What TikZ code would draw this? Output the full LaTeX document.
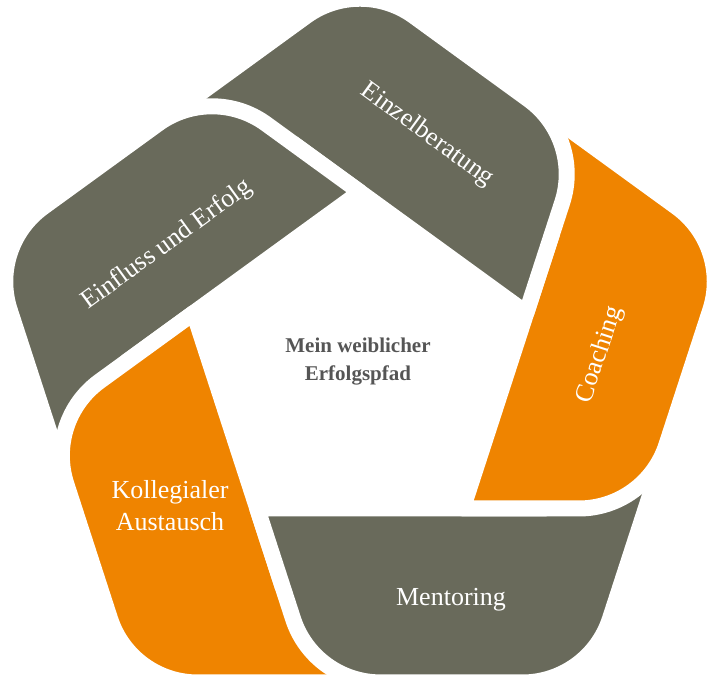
\documentclass[tikz,border=0pt]{standalone}
\usepackage{fontspec}
\setmainfont{Liberation Serif}
\definecolor{segGray}{HTML}{696A5B}
\definecolor{segOrange}{HTML}{EF8400}
\definecolor{midText}{HTML}{555555}
\tikzset{
  segfill/.style={draw=white, line width=16pt, line join=round},
  seglabel/.style={text=white, font=\fontsize{26}{32}\selectfont, align=center, inner sep=0pt},
  midlabel/.style={text=midText, font=\fontsize{21}{28}\selectfont\bfseries, align=center, inner sep=0pt}
}
\newcommand\drawseg[2]{%
  \begin{scope}[shift={(360,333)},rotate=#1]
    \filldraw[segfill, fill=#2] (-228.9,223.6) -- (-54.07,350.69)
      arc[start angle=126,delta angle=-72,radius=92pt] -- (168.78,267.29)
      arc[start angle=54,delta angle=-72,radius=92pt] -- (166.3,54.0)
      -- (-67.1,223.6) -- cycle;
  \end{scope}}
\begin{document}
\begin{tikzpicture}[x=1pt,y=1pt]
\useasboundingbox (0,0) rectangle (720,700);
\drawseg{-288}{segGray}
\drawseg{-216}{segOrange}
\drawseg{-144}{segGray}
\drawseg{-72}{segOrange}
\drawseg{0}{segGray}
\begin{scope}
  \clip (100,440) rectangle (440,700);
  \drawseg{-288}{segGray}
\end{scope}
\node[seglabel, rotate=-36] (einzel) at (427,565) {Einzelberatung};
\node[seglabel, rotate=72] (coach) at (600,345) {Coaching};
\node[seglabel] (mentor) at (451,100) {Mentoring};
\node[seglabel] (kolleg) at (170,194) {Kollegialer\\Austausch};
\node[seglabel, rotate=36] (einfl) at (167,455) {Einfluss und Erfolg};
\node[midlabel] (mitte) at (358,338) {Mein weiblicher\\Erfolgspfad};
\end{tikzpicture}
\end{document}
